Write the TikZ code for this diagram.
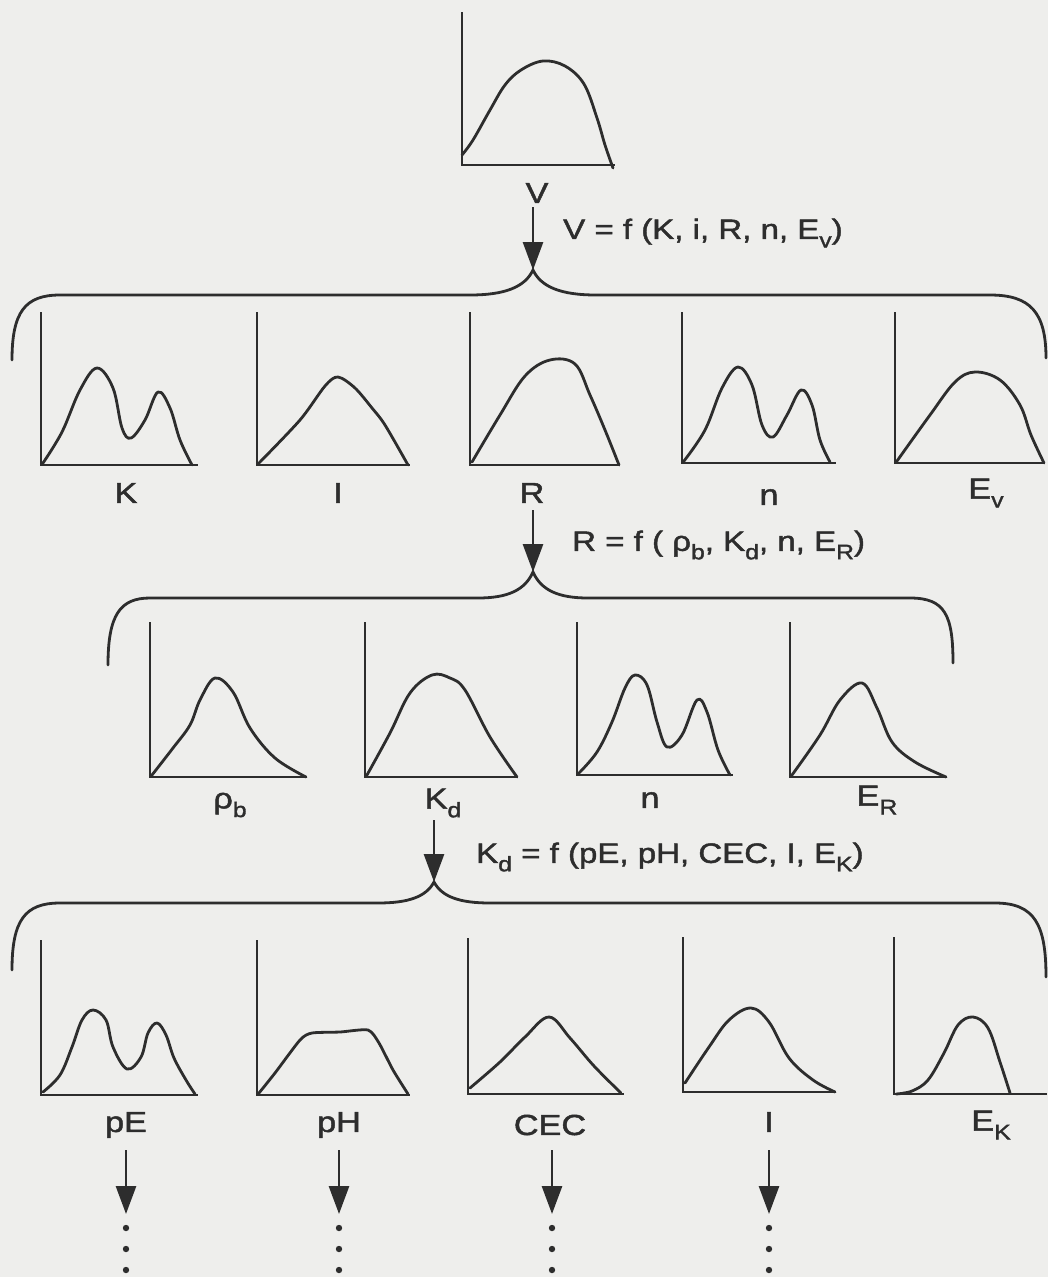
\documentclass[tikz,border=0pt]{standalone}
\usepackage{fontspec}
\setmainfont{Liberation Sans}[FakeStretch=1.18,FakeBold=1.6]
\usetikzlibrary{arrows.meta}
\definecolor{paper}{RGB}{238,238,236}
\definecolor{ink}{RGB}{45,45,45}
\newcommand\sbs[1]{\raisebox{-0.3em}{\fontsize{21}{21}\selectfont #1}}
\begin{document}
\begin{tikzpicture}[x=1pt,y=-1pt,
 axisline/.style={draw=ink,line width=2.8pt,line join=miter},
 crv/.style={draw=ink,line width=2.8pt,line cap=round,line join=round},
 bracel/.style={draw=ink,line width=2.8pt,line cap=round},
 lab/.style={text=ink,font=\fontsize{29}{30}\selectfont,inner sep=0pt},
 eqn/.style={text=ink,font=\fontsize{28}{30}\selectfont,inner sep=0pt,anchor=west},
 arr/.style={draw=ink,line width=2.8pt,-{Triangle[length=28pt,width=20pt]}},
 dotf/.style={fill=ink}
]
\fill[paper] (0,0) rectangle (1048,1277);
\useasboundingbox (0,0) rectangle (1048,1277);

% ---------- top plot V ----------
\draw[axisline] (462,12) |- (615,165);
\draw[crv] plot[smooth,tension=0.6] coordinates {(462,155) (473,140) (490,110) (505,85) (521,70) (543,61) (565,66) (584,84) (597,118) (605,145) (613,168)};
\node[lab] (lV) at (537,193) {V};
\coordinate (t1) at (533,270);
\draw[arr] (533,207) -- (t1);
\node[eqn] (e1) at (563,233) {V = f (K, i, R, n, E\sbs{v})};

% brace 1
\draw[bracel] (12,360) .. controls (12,312) and (25,295) .. (60,295) -- (470,295)
  .. controls (505,295) and (525,287) .. (t1)
  .. controls (541,287) and (561,295) .. (596,295) -- (990,295)
  .. controls (1030,295) and (1046,312) .. (1046,358);

% ---------- row 1 ----------
\draw[axisline] (41,312) |- (198,465);
\draw[crv] plot[smooth,tension=0.6] coordinates {(43,463) (62,432) (80,390) (97,368) (113,388) (122,428) (131,438) (145,420) (158,392) (170,408) (180,440) (192,465)};
\node[lab] (lK) at (126,493) {K};

\draw[axisline] (257,312) |- (410,465);
\draw[crv] plot[smooth,tension=0.5] coordinates {(259,463) (300,420) (325,386) (338,377) (355,388) (372,408) (385,425) (408,465)};
\node[lab] (lI) at (338,493) {I};

\draw[axisline] (470,312) |- (620,465);
\draw[crv] plot[smooth,tension=0.6] coordinates {(472,462) (500,415) (525,376) (550,360) (575,364) (590,395) (605,430) (619,465)};
\node[lab] (lR) at (532,493) {R};

\draw[axisline] (682,312) |- (836,463);
\draw[crv] plot[smooth,tension=0.6] coordinates {(684,461) (705,430) (722,388) (738,367) (752,385) (762,425) (773,437) (787,415) (801,390) (812,405) (820,440) (830,462)};
\node[lab] (ln1) at (769,497) {n};

\draw[axisline] (895,312) |- (1045,463);
\draw[crv] plot[smooth,tension=0.6] coordinates {(897,461) (930,415) (955,382) (975,372) (1000,380) (1020,405) (1031,435) (1044,463)};
\node[lab] (lEv) at (986,493) {E\sbs{v}};

\coordinate (t2) at (533,572);
\draw[arr] (533,510) -- (t2);
\node[eqn] (e2) at (572,545) {R = f ( ρ\sbs{b}, K\sbs{d}, n, E\sbs{R})};

% brace 2
\draw[bracel] (108,665) .. controls (108,615) and (120,598) .. (150,598) -- (478,598)
  .. controls (508,598) and (525,590) .. (t2)
  .. controls (541,590) and (558,598) .. (588,598) -- (910,598)
  .. controls (945,598) and (953,615) .. (953,663);

% ---------- row 2 ----------
\draw[axisline] (150,622) |- (307,777);
\draw[crv] plot[smooth,tension=0.6] coordinates {(152,775) (173,748) (190,725) (200,700) (215,678) (233,692) (250,728) (275,758) (306,777)};
\node[lab] (lrho) at (230,805) {ρ\sbs{b}};

\draw[axisline] (365,622) |- (518,777);
\draw[crv] plot[smooth,tension=0.6] coordinates {(367,775) (390,733) (410,693) (432,675) (450,678) (465,690) (490,737) (517,777)};
\node[lab] (lKd) at (443,803) {K\sbs{d}};

\draw[axisline] (577,622) |- (733,775);
\draw[crv] plot[smooth,tension=0.6] coordinates {(579,773) (597,752) (612,722) (625,688) (635,675) (647,685) (657,722) (667,747) (682,735) (697,700) (707,712) (718,750) (730,775)};
\node[lab] (ln2) at (650,800) {n};

\draw[axisline] (790,622) |- (947,777);
\draw[crv] plot[smooth,tension=0.6] coordinates {(792,775) (820,735) (840,700) (862,683) (877,708) (892,742) (915,762) (946,777)};
\node[lab] (lER) at (877,800) {E\sbs{R}};

\coordinate (t3) at (434,882);
\draw[arr] (434,820) -- (t3);
\node[eqn] (e3) at (476,857) {K\sbs{d} = f (pE, pH, CEC, I, E\sbs{K})};

% brace 3
\draw[bracel] (12,970) .. controls (12,920) and (25,903) .. (60,903) -- (378,903)
  .. controls (408,903) and (426,897) .. (t3)
  .. controls (442,897) and (460,903) .. (490,903) -- (995,903)
  .. controls (1035,903) and (1046,925) .. (1046,977);

% ---------- row 3 ----------
\draw[axisline] (41,940) |- (198,1095);
\draw[crv] plot[smooth,tension=0.6] coordinates {(43,1092) (60,1075) (72,1047) (82,1020) (93,1010) (106,1020) (113,1047) (127,1069) (141,1057) (148,1033) (157,1023) (166,1035) (174,1058) (186,1080) (195,1094)};
\node[lab] (lpE) at (126,1125) {pE};

\draw[axisline] (257,940) |- (410,1095);
\draw[crv] plot[smooth,tension=0.4] coordinates {(259,1093) (275,1073) (300,1040) (312,1033) (340,1032) (368,1030) (379,1043) (393,1070) (408,1094)};
\node[lab] (lpH) at (339,1125) {pH};

\draw[axisline] (468,938) |- (624,1094);
\draw[crv] plot[smooth,tension=0.6] coordinates {(470,1088) (500,1062) (525,1037) (549,1017) (570,1038) (594,1066) (621,1093)};
\node[lab] (lCEC) at (550,1125) {CEC};

\draw[axisline] (683,937) |- (836,1092);
\draw[crv] plot[smooth,tension=0.6] coordinates {(685,1083) (709,1047) (729,1020) (751,1008) (769,1022) (789,1058) (813,1080) (835,1092)};
\node[lab] (lI2) at (769,1122) {I};

\draw[axisline] (894,937) |- (1047,1094);
\draw[crv] plot[smooth,tension=0.6] coordinates {(896,1094) (912,1091) (928,1080) (944,1053) (958,1025) (973,1017) (988,1028) (1000,1062) (1010,1093)};
\node[lab] (lEK) at (991,1125) {E\sbs{K}};

% arrows and continuation dots
\foreach \n/\xx in {a/126,b/339,c/552,d/769}{
  \coordinate (s\n) at (\xx,1150);
  \coordinate (h\n) at (\xx,1214);
  \draw[arr] (s\n) -- (h\n);
  \foreach \yy in {1228,1249,1270} \fill[dotf] (\xx,\yy) circle (3.2);
}
\end{tikzpicture}
\end{document}
